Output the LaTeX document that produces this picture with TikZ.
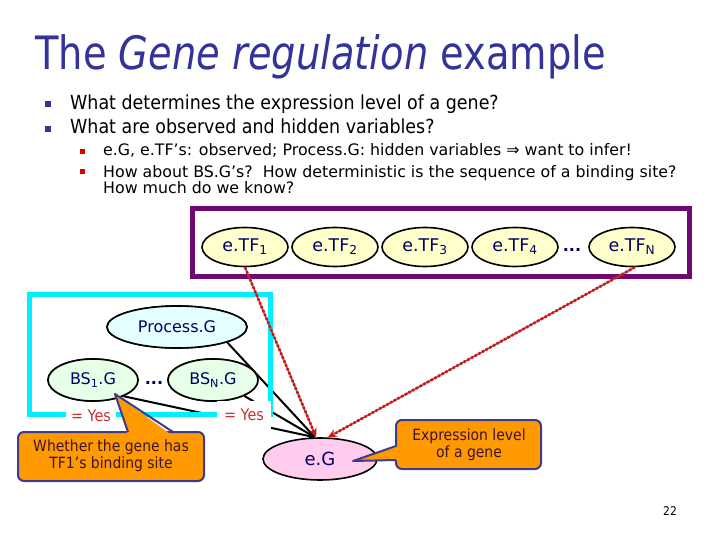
\documentclass[tikz,border=0pt]{standalone}
\usepackage{fontspec}
\setmainfont{DejaVu Sans}[FakeStretch=0.9]
\newfontfamily\titlefont{DejaVu Sans}[FakeStretch=0.835]
\newfontfamily\nodefont{DejaVu Sans}
\usetikzlibrary{shapes.geometric,arrows.meta}
\definecolor{titleblue}{RGB}{51,51,153}
\definecolor{navy}{RGB}{0,0,102}
\definecolor{purp}{RGB}{112,8,112}
\definecolor{cyanb}{RGB}{0,240,255}
\definecolor{tfyellow}{RGB}{255,255,204}
\definecolor{pgcyan}{RGB}{228,255,255}
\definecolor{bsgreen}{RGB}{230,255,230}
\definecolor{egpink}{RGB}{255,204,238}
\definecolor{callorange}{RGB}{255,153,0}
\definecolor{callborder}{RGB}{59,59,143}
\definecolor{calltext}{RGB}{60,20,50}
\definecolor{yesred}{RGB}{200,50,50}
\definecolor{arrred}{RGB}{215,20,20}
\definecolor{arrgray}{RGB}{120,90,90}
\definecolor{bullred}{RGB}{220,0,0}
\tikzset{
  var/.style={ellipse, draw=black, line width=1.6pt, inner sep=0pt, text=navy,
    font=\nodefont\fontsize{16}{16}\selectfont},
  tfnode/.style={var, fill=tfyellow, minimum width=86pt, minimum height=39pt,
    font=\nodefont\fontsize{17.5}{17.5}\selectfont},
  bsnode/.style={var, fill=bsgreen, minimum width=90pt, minimum height=42pt},
  pgnode/.style={var, fill=pgcyan, minimum width=140pt, minimum height=42pt},
  egnode/.style={var, fill=egpink, minimum width=114pt, minimum height=42pt,
    font=\nodefont\fontsize{18}{18}\selectfont},
  dotsnode/.style={inner sep=0pt, text=navy, font=\nodefont\bfseries\fontsize{16}{16}\selectfont},
  yeslabel/.style={fill=white, inner sep=0pt, text=yesred, font=\fontsize{16}{16}\selectfont},
  blackedge/.style={draw=black, line width=2pt, -{Stealth[length=7pt,width=6pt]}},
  redunder/.style={draw=arrgray, line width=1.4pt, shorten >=7pt},
  rededge/.style={draw=arrred, line width=2.6pt, dash pattern=on 2.6pt off 1.6pt,
    -{Stealth[length=9pt,width=8pt]}},
  callbox/.style={draw=callborder, fill=callorange, line width=2pt, rounded corners=6pt},
  calltxt/.style={text=calltext, align=center, inner sep=0pt,
    font=\fontsize{15.5}{17}\selectfont},
  bulA/.style={rectangle, fill=titleblue, minimum size=6pt, inner sep=0pt},
  bulB/.style={rectangle, fill=bullred, minimum size=5pt, inner sep=0pt},
  txtA/.style={anchor=base west, inner sep=0pt, font=\fontsize{19.4}{19.4}\selectfont},
  txtB/.style={anchor=base west, inner sep=0pt, font=\nodefont\fontsize{15.8}{15.8}\selectfont},
}
\begin{document}
\begin{tikzpicture}[x=1pt,y=-1pt]
\useasboundingbox (0,0) rectangle (720,540);
\fill[white] (0,0) rectangle (720,540);

% title
\node[anchor=base west, inner sep=0pt, text=titleblue, font=\titlefont\fontsize{46}{46}\selectfont] (title) at (35,70) {The \textit{Gene regulation} example};

% bullets
\node[bulA] (ba1) at (48,104) {};
\node[txtA] (ta1) at (70,110) {What determines the expression level of a gene?};
\node[bulA] (ba2) at (48,129) {};
\node[txtA] (ta2) at (70,134) {What are observed and hidden variables?};
\node[bulB] (bb1) at (82,152) {};
\node[txtB] (tb1) at (103,156) {e.G, e.TF’s: observed; Process.G: hidden variables ⇒ want to infer!};
\node[bulB] (bb2) at (82,172) {};
\node[txtB] (tb2) at (103,177.5) {How about BS.G’s?\ \ How deterministic is the sequence of a binding site?};
\node[txtB] (tb3) at (103,194) {How much do we know?};

% e.G node (needed for edges)
\node[egnode] (eG) at (320,459) {e.G};

% process / binding-site nodes
\node[pgnode] (PG) at (177,327) {Process.G};
\node[bsnode] (BS1) at (93,380) {BS\textsubscript{1}.G};
\node[bsnode] (BSN) at (213,380) {BS\textsubscript{N}.G};
\node[dotsnode] (bsdots) at (154,383) {...};

% black edges
\draw[blackedge] (PG.-17) -- (eG.103);
\draw[blackedge] (BSN.-27) -- (eG.103);
\draw[blackedge] (BS1.-28) -- (eG.103);

% cyan plate
\draw[cyanb, line width=5pt] (29,294) rectangle (270,414);
\node[bsnode] at (BS1) {BS\textsubscript{1}.G};
\node[bsnode] at (BSN) {BS\textsubscript{N}.G};
\node[pgnode] at (PG) {Process.G};

% purple plate
\draw[purp, line width=5pt] (192,209) rectangle (689,276);
\node[tfnode] (tf1) at (245,247) {e.TF\textsubscript{1}};
\node[tfnode] (tf2) at (335,247) {e.TF\textsubscript{2}};
\node[tfnode] (tf3) at (425,247) {e.TF\textsubscript{3}};
\node[tfnode] (tf4) at (515,247) {e.TF\textsubscript{4}};
\node[dotsnode] (tfdots) at (572,250) {...};
\node[tfnode] (tfN) at (632,247) {e.TF\textsubscript{N}};

% red dashed edges
\draw[redunder] (tf1.-90) -- (eG.100);
\draw[rededge] (tf1.-90) -- (eG.100);
\draw[redunder] (tfN.-82) -- (eG.70);
\draw[rededge] (tfN.-82) -- (eG.70);

% = Yes labels
\node[yeslabel, minimum width=50pt, minimum height=26pt] (yes1) at (91,416) {= Yes};
\node[yeslabel, minimum width=54pt, minimum height=28pt] (yes2) at (244,415) {= Yes};

% callout 1
\draw[callbox] (18,432) rectangle (204,481);
\fill[callorange] (115,394) -- (128,436) -- (173,436) -- cycle;
\draw[callborder, line width=2pt, line join=round] (128,432) -- (115,394) -- (173,432);
\node[calltxt] (c1) at (111,456) {Whether the gene has\\TF1’s binding site};

% callout 2
\draw[callbox] (396,420) rectangle (541,469);
\fill[callorange] (399,446) -- (353,461) -- (399,460) -- cycle;
\draw[callborder, line width=2pt, line join=round] (396,446) -- (353,461) -- (396,460);
\node[calltxt] (c2) at (469,445) {Expression level\\of a gene};

% page number
\node[inner sep=0pt, font=\fontsize{12}{12}\selectfont] (pnum) at (670,511) {22};
\end{tikzpicture}
\end{document}
